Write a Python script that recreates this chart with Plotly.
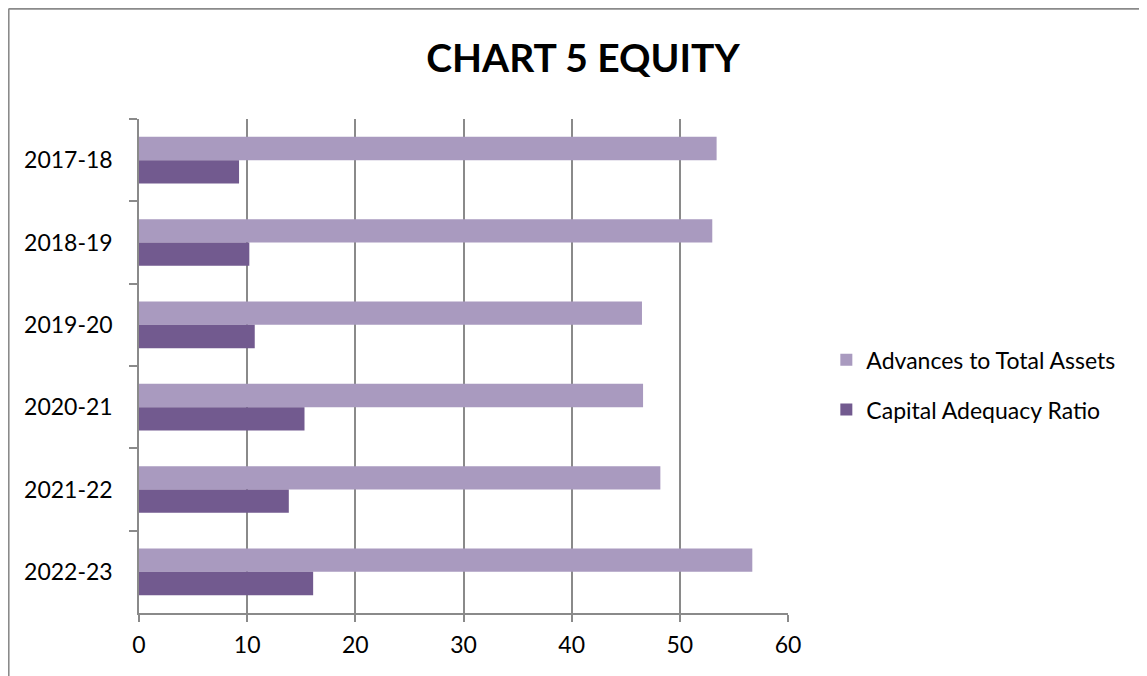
import plotly.graph_objects as go

years = ["2017-18", "2018-19", "2019-20", "2020-21", "2021-22", "2022-23"]
advances = [53.4, 53.0, 46.5, 46.6, 48.2, 56.7]
car = [9.25, 10.2, 10.7, 15.3, 13.85, 16.1]
x_ticks = [0, 10, 20, 30, 40, 50, 60]

W, H = 1147, 676
OFF = 8  # browser default body margin
L, R, T, B = 139.3 - OFF, 787.7 - OFF, 119.3 - OFF, 613.3 - OFF
FONT = "Lato"

fig = go.Figure()
fig.add_trace(go.Bar(y=years, x=advances, orientation="h", name="Advances to Total Assets",
                     marker=dict(color="#A99ABF", line=dict(width=0)), legendgroup="a"))
fig.add_trace(go.Bar(y=years, x=car, orientation="h", name="Capital Adequacy Ratio",
                     marker=dict(color="#725A8F", line=dict(width=0)), legendgroup="b"))

def fx(fig_px):
    return (fig_px - L) / (R - L)

def fy(fig_py):
    return (B - fig_py) / (B - T)

shapes = [
    dict(type="line", xref="paper", yref="paper", x0=fx(1), x1=fx(1), y0=fy(720), y1=fy(1),
         line=dict(color="#8a8a8a", width=2)),
    dict(type="line", xref="paper", yref="paper", x0=fx(1), x1=fx(1200), y0=fy(1), y1=fy(1),
         line=dict(color="#8a8a8a", width=2)),
]

fig.update_layout(
    width=W, height=H,
    margin=dict(l=L, r=W - R, t=T, b=H - B, pad=0),
    paper_bgcolor="white", plot_bgcolor="white",
    barmode="group", bargap=0.433, bargroupgap=0,
    font=dict(family=FONT, size=23, color="#000000"),
    title=dict(text="<b>CHART 5 EQUITY</b>", x=(583 - OFF) / W, xanchor="center", xref="container",
               y=1 - (58 - OFF) / H, yanchor="middle", yref="container",
               font=dict(family=FONT, size=39, color="#000000")),
    xaxis=dict(range=[0, 60], tickvals=x_ticks, showgrid=True, gridcolor="#8a8a8a", gridwidth=1.5,
               showline=True, linecolor="#8a8a8a", linewidth=1.5, ticks="outside", ticklen=7,
               tickcolor="#8a8a8a", tickwidth=1.5, zeroline=False, ticklabelstandoff=4,
               tickfont=dict(family=FONT, size=23)),
    yaxis=dict(categoryorder="array", categoryarray=years, autorange="reversed",
               showgrid=False, showline=True, linecolor="#8a8a8a", linewidth=1.5,
               ticks="outside", tickson="boundaries", ticklen=8, tickcolor="#8a8a8a", tickwidth=1.5,
               ticklabelstandoff=20, tickfont=dict(family=FONT, size=23)),
    legend=dict(x=fx(826 - OFF), xanchor="left", y=fy(385 - OFF), yanchor="middle",
                font=dict(family=FONT, size=23), tracegroupgap=17, bgcolor="rgba(0,0,0,0)",
                traceorder="grouped"),
    shapes=shapes,
)

fig.write_html("out.html")
